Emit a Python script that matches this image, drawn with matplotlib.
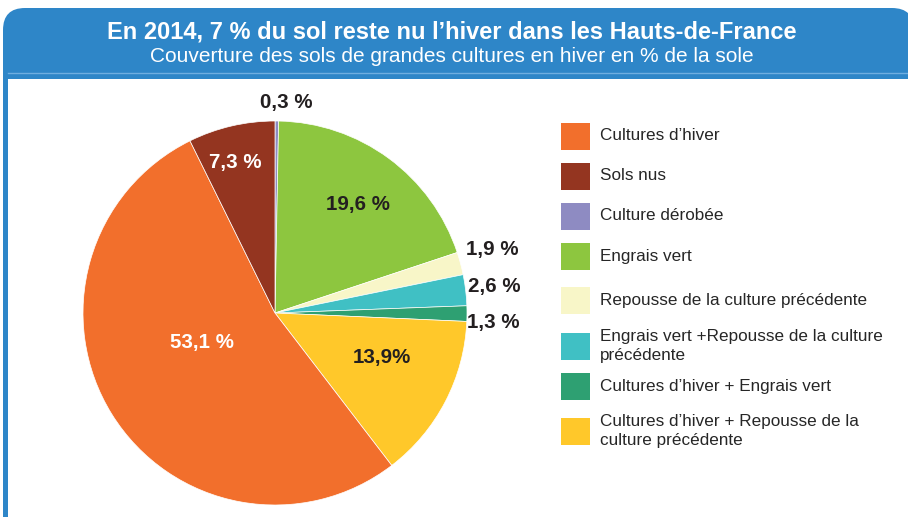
import os
import numpy as np
import matplotlib
matplotlib.use("Agg")
import matplotlib.pyplot as plt
from matplotlib.patches import FancyBboxPatch, Rectangle
from matplotlib.font_manager import FontProperties

LIB = "/usr/share/fonts/truetype/liberation/"

def font(size, bold=False):
    f = LIB + ("LiberationSans-Bold.ttf" if bold else "LiberationSans-Regular.ttf")
    if os.path.exists(f):
        return FontProperties(fname=f, size=size)
    return FontProperties(family="Liberation Sans", weight="bold" if bold else "normal", size=size)

W, H = 908, 517
TITLE = "En 2014, 7 % du sol reste nu l\u2019hiver dans les Hauts-de-France"
SUBTITLE = "Couverture des sols de grandes cultures en hiver en % de la sole"

# slices in clockwise order starting at 12 o'clock
CATS = ["Culture dérobée", "Engrais vert", "Repousse de la culture précédente",
        "Engrais vert +Repousse de la culture\nprécédente", "Cultures d\u2019hiver + Engrais vert",
        "Cultures d\u2019hiver + Repousse de la\nculture précédente", "Cultures d\u2019hiver", "Sols nus"]
VALUES = [0.3, 19.6, 1.9, 2.6, 1.3, 13.9, 53.1, 7.3]
PCT_TXT = ["0,3 %", "19,6 %", "1,9 %", "2,6 %", "1,3 %", "13,9%", "53,1 %", "7,3 %"]
COLORS = ["#8E8BC2", "#8DC63F", "#F8F6C8", "#40C0C4", "#2EA072", "#FFC82A", "#F26F2C", "#943520"]
TXT_COL = ["#231F20", "#231F20", "#231F20", "#231F20", "#231F20", "#231F20", "white", "white"]
LAB_R = [1.1, 0.71, 1.18, 1.15, 1.14, 0.6, 0.41, 0.81]
LAB_DA = [-2.5, -0.9, 1.3, 0, -2.4, 5, -10, 1.7]

# legend order
LEG_ORDER = [6, 7, 0, 1, 2, 3, 4, 5]
LEG_Y = [136, 176, 216, 256, 300, 346, 386, 431]

BLUE = "#2E86C8"
fig = plt.figure(figsize=(W / 100, H / 100), dpi=100)
ax = fig.add_axes([0, 0, 1, 1])
ax.set_xlim(0, W); ax.set_ylim(0, H); ax.set_aspect("equal"); ax.axis("off")

def py(y):
    return H - y

# frame / header
ax.add_patch(FancyBboxPatch((3, py(120)), 911, 112, boxstyle="round,pad=0,rounding_size=22",
                            fc=BLUE, ec="none", zorder=0))
ax.add_patch(Rectangle((8.3, 0), W, py(79), fc="white", ec="none", zorder=0.5))
ax.add_patch(Rectangle((3, 0), 5.3, py(79), fc=BLUE, ec="none", zorder=0.6))
ax.plot([8, W], [py(72.7), py(72.7)], color="#6FAEE0", lw=1, zorder=0.7)
ax.text(452, py(31.5), TITLE, color="white", fontproperties=font(17, True), ha="center", va="center")
ax.text(452, py(57), SUBTITLE, color="white", fontproperties=font(15), ha="center", va="center")

# pie
cx, cy, R = 275, py(313), 192
wedges, _ = ax.pie(VALUES, colors=COLORS, startangle=90, counterclock=False, center=(cx, cy),
                   radius=R, frame=True, wedgeprops=dict(edgecolor="white", linewidth=0.5))
ax.set_xlim(0, W); ax.set_ylim(0, H); ax.axis("off")
for w, t, c, r, da in zip(wedges, PCT_TXT, TXT_COL, LAB_R, LAB_DA):
    a = np.deg2rad((w.theta1 + w.theta2) / 2 + da)
    ax.text(cx + r * R * np.cos(a), cy + r * R * np.sin(a), t, color=c,
            fontproperties=font(14.8, True), ha="center", va="center")

# legend
for i, y in zip(LEG_ORDER, LEG_Y):
    ax.add_patch(Rectangle((560.7, py(y) - 13.5), 29.5, 27, fc=COLORS[i], ec="none"))
    ax.text(600, py(y), CATS[i], fontproperties=font(12.3), color="#262626", ha="left", va="center",
            linespacing=1.4)

fig.savefig("out.png", dpi=100)
